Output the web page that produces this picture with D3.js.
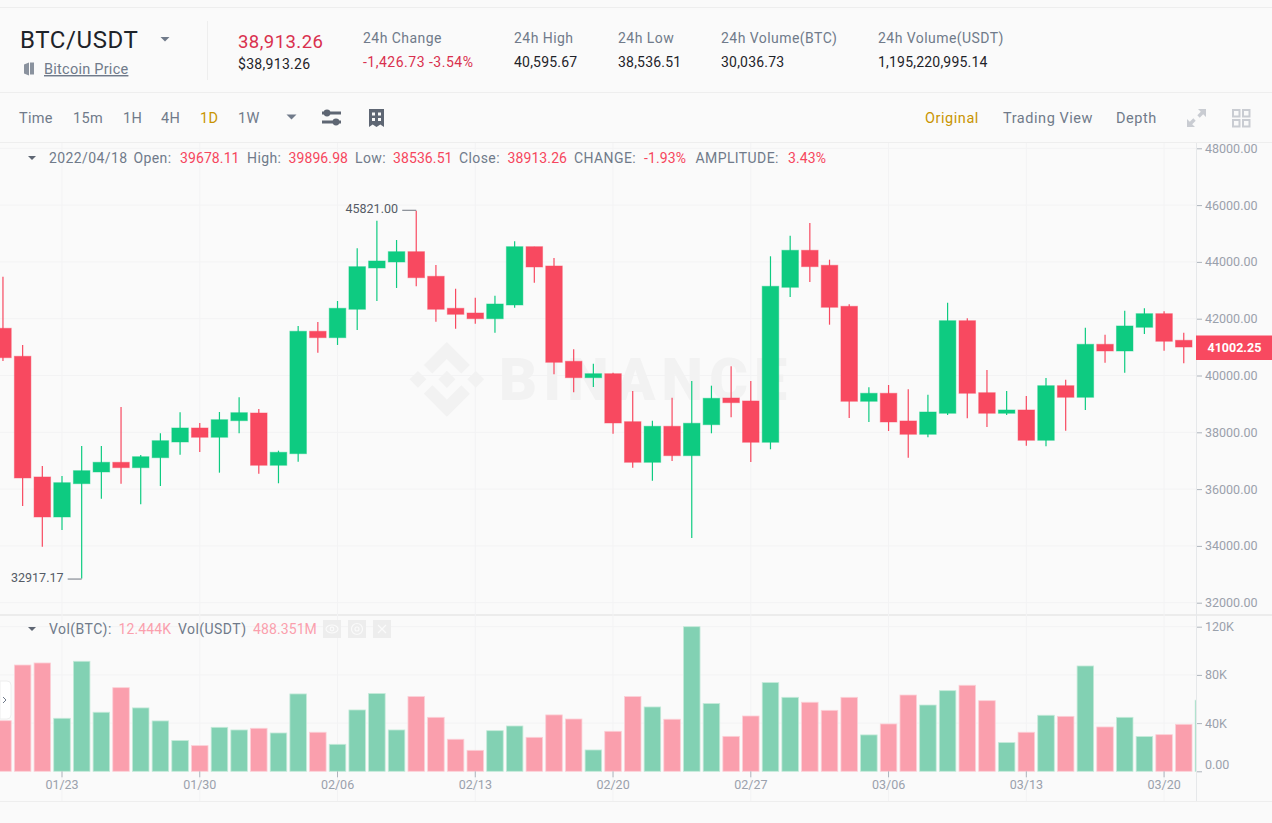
<!DOCTYPE html>
<html>
<head>
<meta charset="utf-8">
<script src="https://cdn.jsdelivr.net/npm/d3@7"></script>
<style>
  html, body { margin: 0; padding: 0; background: #fafafa; overflow: hidden; }
  svg { display: block; font-family: Roboto, "Noto Sans", sans-serif; }
  .axis path { display: none; }
  .axis line { stroke: #aeb4bc; }
  .axis text { fill: #9aa1ac; font-size: 12.5px; font-family: Roboto, sans-serif; }
</style>
</head>
<body>
<div id="chart"></div>
<script>
var opens  = [41663,40677,36427,35018,36191,36603,36944,36754,37106,37659,38152,37825,38409,38680,36839,37247,41557,41332,42332,43786,43997,44360,43493,42367,42201,42000,42483,44536,43856,40501,39923,40064,38374,36944,38212,37177,38268,39208,39103,37649,43106,44409,43881,42437,39092,39374,38399,37930,38670,41930,39395,38670,38786,37719,39641,39233,41099,40863,41698,42177,41240];
var highs  = [43479,41075,36814,36462,37518,37518,38892,37201,37965,38705,38328,38715,39233,38821,37353,41744,41884,42624,44479,45451,44772,45800,43891,43057,42740,42810,44726,44536,44138,40923,40416,40099,39455,38409,39219,39807,39642,40325,39807,44198,44923,45370,44078,42508,39585,39666,39515,39325,42564,42015,40194,39455,39279,39913,39853,41684,41437,42282,42367,42261,41508];
var lows   = [40511,35406,33973,34561,32850,35663,36191,35466,36110,37212,37307,36578,37965,36543,36205,36966,40803,41075,41603,42624,43082,43141,41895,41648,41824,41508,42388,43268,40043,39409,39596,37951,36754,36297,36990,34279,37965,38529,36955,37402,42765,43293,41789,38504,38363,38046,37106,37825,38610,38494,38187,38610,37529,37508,38057,38786,40451,40099,41462,40874,40430];
var closes = [40627,36392,35018,36226,36649,36944,36754,37141,37705,38152,37825,38444,38691,36839,37296,41557,41332,42367,43832,44032,44360,43444,42332,42155,42000,42518,44536,43821,40465,39923,40064,38328,36944,38212,37177,38318,39198,39043,37649,43141,44409,43832,42402,39092,39374,38363,37930,38715,41930,39374,38670,38786,37719,39641,39233,41099,40863,41744,42177,41205,41002.25];
// volume in thousands of BTC, last one is the bar cut off by the axis
var volumes = [42,88.2,89.9,44,91.3,49,69.4,52.6,41.8,25.5,21.3,36.5,34.3,35.7,31.8,64.2,32.4,22.4,50.9,64.5,34.3,62,44.8,26.6,17.4,33.7,37.6,28.2,46.8,43.4,17.7,33.2,62,53.4,43.2,120,56.2,29,45.9,73.6,61.4,57.3,50.6,61.4,30.2,39.3,63.3,55,66.9,71.4,58.6,23.8,32.4,46.5,45.6,87.4,36.8,44.8,28.8,30.4,39,59];

var priceTicks = [32000,34000,36000,38000,40000,42000,44000,46000,48000];
var volTicks = [0,40,80,120];
var dateTicks = ["01/23","01/30","02/06","02/13","02/20","02/27","03/06","03/13","03/20"];
var lastPrice = "41002.25";
var maxNote = "45821.00", minNote = "32917.17";

var statLabels = ["24h Change","24h High","24h Low","24h Volume(BTC)","24h Volume(USDT)"];
var statValues = ["-1,426.73 -3.54%","40,595.67","38,536.51","30,036.73","1,195,220,995.14"];
var statX = [363,514,618,721,878];
var intervals = ["Time","15m","1H","4H","1D","1W"];
var intervalX = [19,73,123,161,200,238];
var views = ["Original","Trading View","Depth"];
var viewX = [925,1003,1116];
var infoLabels = ["2022/04/18","Open:","High:","Low:","Close:","CHANGE:","AMPLITUDE:"];
var infoLabelX = [49,133.5,247,355,459,574,695.5];
var infoValues = ["39678.11","39896.98","38536.51","38913.26","-1.93%","3.43%"];
var infoValueX = [180,288.5,393,507.5,644,788];

var width = 1272, height = 823;
var axisX = 1196;
var RED = "#f84960", GREEN = "#0ecb81", GREY = "#707a8a";

var svg = d3.select("#chart").append("svg")
  .attr("width", width)
  .attr("height", height);

var parseDay = d3.timeFormat("%m/%d");
var days = d3.timeDay.range(new Date(2022,0,20), new Date(2022,2,23)).map(parseDay);

var step = 19.68;
var x = d3.scaleBand()
  .domain(days)
  .range([2.96 - step/2, 2.96 - step/2 + step*days.length])
  .paddingInner(0.16)
  .paddingOuter(0.08);
var cx = function(i) { return x(days[i]) + x.bandwidth()/2; };

var y = d3.scaleLinear().domain([32000,48000]).range([602.7,148.3]);
var yVol = d3.scaleLinear().domain([0,120]).range([771.3,626.7]);

// frame lines
[7,92,142,801].forEach(function(p) {
  svg.append("line").attr("x1",0).attr("x2",width).attr("y1",p+0.5).attr("y2",p+0.5).attr("stroke","#eeeeee");
});
svg.append("line").attr("x1",0).attr("x2",width).attr("y1",615).attr("y2",615).attr("stroke","#ececec").attr("stroke-width",2);
svg.append("line").attr("x1",207.5).attr("x2",207.5).attr("y1",21).attr("y2",80).attr("stroke","#eeeeee");

// grid
var grid = svg.append("g").attr("stroke","#f3f3f4");
priceTicks.forEach(function(p) {
  grid.append("line").attr("x1",0).attr("x2",axisX).attr("y1",y(p)).attr("y2",y(p));
});
volTicks.slice(1).forEach(function(v) {
  grid.append("line").attr("x1",0).attr("x2",axisX).attr("y1",yVol(v)).attr("y2",yVol(v));
});
dateTicks.forEach(function(d) {
  var px = x(d) + x.bandwidth()/2;
  grid.append("line").attr("x1",px).attr("x2",px).attr("y1",143).attr("y2",801);
});

// watermark
var mark = svg.append("g").attr("fill","#f2f2f2")
  .attr("transform","translate(409.5,342) scale(0.59)");
["38.73 53.2 63.31 28.62 87.9 53.21 102.2 38.91 63.31 0 24.42 38.89",
 "0 63.31 14.3 49.01 28.6 63.31 14.3 77.61",
 "38.73 73.41 63.31 97.99 87.9 73.4 102.21 87.69 63.31 126.61 24.42 87.72",
 "98.01 63.31 112.31 49.01 126.61 63.31 112.31 77.61",
 "63.31 48.79 77.83 63.31 63.31 77.83 48.79 63.31"].forEach(function(pts) {
  mark.append("polygon").attr("points",pts);
});
svg.append("text").attr("x",499).attr("y",400).attr("fill","#f2f2f2")
  .attr("font-family","Roboto").attr("font-weight",900).attr("font-size",59)
  .attr("textLength",288).text("BINANCE");

svg.append("clipPath").attr("id","plot").append("rect")
  .attr("x",0).attr("y",143).attr("width",axisX).attr("height",660);

// candles
var candles = svg.append("g").attr("clip-path","url(#plot)")
  .selectAll("g").data(opens).enter().append("g")
  .attr("fill",function(d,i) { return closes[i] >= d ? GREEN : RED; })
  .attr("stroke",function(d,i) { return closes[i] >= d ? GREEN : RED; });

candles.append("line")
  .attr("x1",function(d,i) { return cx(i); })
  .attr("x2",function(d,i) { return cx(i); })
  .attr("y1",function(d,i) { return y(highs[i]); })
  .attr("y2",function(d,i) { return y(lows[i]); })
  .attr("stroke-width",1.2);

candles.append("rect")
  .attr("x",function(d,i) { return x(days[i]); })
  .attr("width",x.bandwidth())
  .attr("y",function(d,i) { return y(Math.max(d,closes[i])); })
  .attr("height",function(d,i) { return Math.abs(y(d)-y(closes[i])); })
  .attr("stroke-opacity",0.45);

// volume bars
svg.append("g").attr("clip-path","url(#plot)")
  .selectAll("rect").data(volumes).enter().append("rect")
  .attr("x",function(d,i) { return x(days[i]); })
  .attr("width",x.bandwidth())
  .attr("y",function(d) { return yVol(d); })
  .attr("height",function(d) { return yVol(0)-yVol(d); })
  .attr("fill",function(d,i) { return closes[i] >= opens[i] || i >= opens.length ? "#82d1b3" : "#fa9fad"; })
  .attr("stroke",function(d,i) { return closes[i] >= opens[i] || i >= opens.length ? "#c4ead9" : "#fcd0d7"; })
  .attr("stroke-width",0.8);

// axes
svg.append("line").attr("x1",axisX+0.5).attr("x2",axisX+0.5).attr("y1",143).attr("y2",801).attr("stroke","#e6e8ea");

svg.append("g").attr("class","axis")
  .attr("transform","translate(" + (axisX+1) + ",0)")
  .call(d3.axisRight(y).tickValues(priceTicks).tickSize(5).tickPadding(3).tickFormat(function(d) { return d.toFixed(2); }));

svg.append("g").attr("class","axis vol")
  .attr("transform","translate(" + (axisX+1) + ",0)")
  .call(d3.axisRight(yVol).tickValues(volTicks).tickSize(5).tickPadding(3).tickFormat(function(d) { return d === 0 ? "0.00" : d + "K"; }));
svg.selectAll(".vol .tick text").filter(function(d) { return d === 0; }).attr("y",-7);

svg.append("g").attr("class","axis")
  .attr("transform","translate(0,771.3)")
  .call(d3.axisBottom(x).tickValues(dateTicks).tickSize(6).tickPadding(3))
  .selectAll("text").attr("font-size",12);

// last price tag
svg.append("rect").attr("x",axisX).attr("y",335.5).attr("width",width-axisX).attr("height",24.5).attr("fill",RED);
svg.append("text").attr("x",1207.5).attr("y",352).attr("fill","#fff").attr("font-size",12.5).attr("font-weight",700).text(lastPrice);

// high / low notes
function note(textX, txt, i, py) {
  svg.append("text").attr("x",textX).attr("y",py+3.5).attr("fill","#555b66").attr("font-size",12.5).text(txt);
  svg.append("line").attr("x1",cx(i)-14).attr("x2",cx(i)).attr("y1",py+0.5).attr("y2",py+0.5).attr("stroke","#6f7580");
}
note(345.5, maxNote, 21, y(highs[21])-1);
note(11, minNote, 4, y(lows[4]));

// header
function label(px, py, txt, size, fill, spacing, weight) {
  return svg.append("text").attr("x",px).attr("y",py).attr("font-size",size).attr("fill",fill)
    .attr("letter-spacing",spacing || 0).attr("font-weight",weight || 400).text(txt);
}
function tri(px, py, s, fill) {
  svg.append("path").attr("d","M" + (px-s) + "," + py + "h" + (2*s) + "l" + (-s) + "," + s + "z").attr("fill",fill);
}
label(20,47.5,"BTC/USDT",24,"#1e2329",0.6);
tri(165,37,4.5,GREY);
label(44,74,"Bitcoin Price",14.5,GREY,0.25).attr("text-decoration","underline");
svg.append("path").attr("d","M24,64.5l5,-2v13l-5,-2zM30,62.5h4v12h-4z").attr("fill","#8a929e");
label(238,48,"38,913.26",18.5,"#d9304e",0.45);
label(238,69,"$38,913.26",14,"#1e2329",0.3);
statLabels.forEach(function(s,i) {
  label(statX[i],42.5,s,14,GREY,0.45);
  label(statX[i],66.5,statValues[i],14,i === 0 ? "#d9304e" : "#1e2329",i === 0 ? 0.5 : 0.2);
});

// toolbar
intervals.forEach(function(s,i) {
  label(intervalX[i],123,s,14.5,s === "1D" ? "#c99400" : GREY,0.3);
});
tri(291.5,114.5,5,GREY);
views.forEach(function(s,i) {
  label(viewX[i],123,s,14.5,i === 0 ? "#c99400" : GREY,0.55);
});

// slider icon
var sl = svg.append("g").attr("fill","#5e6673");
sl.append("rect").attr("x",322).attr("y",111.5).attr("width",19).attr("height",3);
sl.append("rect").attr("x",322).attr("y",120.5).attr("width",19).attr("height",3);
sl.append("circle").attr("cx",327).attr("cy",113).attr("r",3.4);
sl.append("circle").attr("cx",336).attr("cy",122).attr("r",3.4);
// receipt icon
svg.append("path").attr("fill-rule","evenodd").attr("fill","#5e6673")
  .attr("d","M369,109h15v18l-3.7,-2.5l-3.8,2.5l-3.8,-2.5l-3.7,2.5z M372,112.5v3h3v-3z M378,112.5v3h3v-3z M372,118v3h3v-3z M378,118v3h3v-3z");
// expand icon
svg.append("path").attr("fill","#c9ccd2")
  .attr("d","M1206,109v8l-2.8,-2.8l-3.5,3.5l-2.4,-2.4l3.5,-3.5l-2.8,-2.8z M1187,127v-8l2.8,2.8l3.5,-3.5l2.4,2.4l-3.5,3.5l2.8,2.8z");
// grid icon
[[1233,110],[1243,110],[1233,120],[1243,120]].forEach(function(p) {
  svg.append("rect").attr("x",p[0]).attr("y",p[1]).attr("width",6.5).attr("height",6.5)
    .attr("fill","none").attr("stroke","#c9ccd2").attr("stroke-width",2);
});

// info row
tri(32,156,4,"#5e6673");
infoLabels.forEach(function(s,i) { label(infoLabelX[i],163,s,14,GREY,0.4); });
infoValues.forEach(function(s,i) { label(infoValueX[i],163,s,14,"#f6465d",0.1); });

// volume legend
tri(32,627,4,"#5e6673");
label(49,634,"Vol(BTC):",14,GREY,0.45);
label(118.5,634,"12.444K",14,"#fa9fad",0.1);
label(178,634,"Vol(USDT)",14,GREY,0.45);
label(253,634,"488.351M",14,"#fa9fad",0.1);
[323,348,373].forEach(function(px,i) {
  svg.append("rect").attr("x",px).attr("y",620).attr("width",18).attr("height",18).attr("fill","#ededed");
});
var ic = svg.append("g").attr("fill","none").attr("stroke","#fafafa").attr("stroke-width",1.2);
ic.append("ellipse").attr("cx",332).attr("cy",629).attr("rx",6).attr("ry",4);
ic.append("circle").attr("cx",332).attr("cy",629).attr("r",1.8);
ic.append("circle").attr("cx",357).attr("cy",629).attr("r",5.5);
ic.append("circle").attr("cx",357).attr("cy",629).attr("r",2);
ic.append("path").attr("d","M378,625l8,8M386,625l-8,8");

// side tab
svg.append("path").attr("d","M0,681h7a4,4 0 0 1 4,4v30a4,4 0 0 1 -4,4h-7z").attr("fill","#fff").attr("stroke","#eeeeee");
svg.append("path").attr("d","M3,697l3,3l-3,3").attr("fill","none").attr("stroke",GREY).attr("stroke-width",1);
</script>
</body>
</html>
